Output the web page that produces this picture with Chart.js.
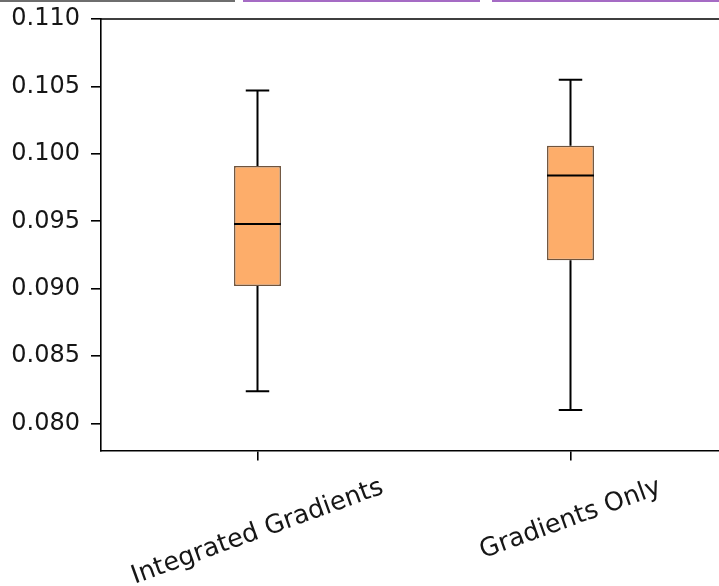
<!DOCTYPE html>
<html>
<head>
<meta charset="utf-8">
<script src="https://cdn.jsdelivr.net/npm/chart.js@4/dist/chart.umd.min.js"></script>
<style>
  html, body { margin: 0; padding: 0; background: #fff; overflow: hidden; }
  #wrap { position: relative; width: 719px; height: 586px; overflow: hidden; }
  canvas { position: absolute; left: 0; top: 0; }
  .strip { position: absolute; top: 0; height: 2px; }
</style>
</head>
<body>
<div id="wrap">
  <canvas id="c" width="740" height="586"></canvas>
  <div class="strip" style="left:0;width:235px;background:#6e6e6e;"></div>
  <div class="strip" style="left:243px;width:237px;background:#a56bc4;"></div>
  <div class="strip" style="left:492px;width:227px;background:#a56bc4;"></div>
</div>
<script>
// ---- data ----
const categories  = ['Integrated Gradients', 'Gradients Only'];
const whiskerLow  = [0.0824, 0.0810];
const q1          = [0.0902, 0.0921];
const medians     = [0.0948, 0.0984];
const q3          = [0.0991, 0.1006];
const whiskerHigh = [0.1047, 0.1055];
const yTicks      = [0.080, 0.085, 0.090, 0.095, 0.100, 0.105, 0.110];
const yMin = 0.078, yMax = 0.110;

const FONT = '"DejaVu Sans", "Liberation Sans", sans-serif';
const FONT_SIZE = 24;
const XFONT_SIZE = 25.5;
const ROT = 20; // degrees
const TEXT_COLOR = '#161616';

const boxPlugin = {
  id: 'boxExtras',
  afterDatasetsDraw(chart) {
    const ctx = chart.ctx;
    const xs = chart.scales.x, ys = chart.scales.y;
    const meta = chart.getDatasetMeta(0);
    ctx.save();
    ctx.strokeStyle = '#000';
    ctx.lineCap = 'butt';
    categories.forEach((c, i) => {
      const x = xs.getPixelForValue(i);
      const bw = meta.data[i].width;
      const capHalf = bw / 4;
      const yLo = ys.getPixelForValue(whiskerLow[i]);
      const yQ1 = ys.getPixelForValue(q1[i]);
      const yQ3 = ys.getPixelForValue(q3[i]);
      const yHi = ys.getPixelForValue(whiskerHigh[i]);
      const yMed = ys.getPixelForValue(medians[i]);
      ctx.lineWidth = 2;
      ctx.beginPath();
      ctx.moveTo(x, yQ1); ctx.lineTo(x, yLo);
      ctx.moveTo(x, yQ3); ctx.lineTo(x, yHi);
      ctx.moveTo(x - capHalf, yLo); ctx.lineTo(x + capHalf, yLo);
      ctx.moveTo(x - capHalf, yHi); ctx.lineTo(x + capHalf, yHi);
      ctx.stroke();
      ctx.lineWidth = 2;
      ctx.beginPath();
      ctx.moveTo(x - bw / 2, yMed); ctx.lineTo(x + bw / 2, yMed);
      ctx.stroke();
    });
    ctx.restore();
  },
  afterDraw(chart) {
    const ctx = chart.ctx;
    const a = chart.chartArea;
    const xs = chart.scales.x;
    ctx.save();
    // top and right spines
    ctx.strokeStyle = '#000';
    ctx.lineWidth = 1.6;
    ctx.beginPath();
    ctx.moveTo(a.left, a.top); ctx.lineTo(a.right, a.top); ctx.lineTo(a.right, a.bottom);
    ctx.stroke();
    // rotated, centred category labels
    ctx.font = XFONT_SIZE + 'px ' + FONT;
    ctx.fillStyle = TEXT_COLOR;
    ctx.textAlign = 'center';
    ctx.textBaseline = 'middle';
    const th = ROT * Math.PI / 180;
    const topY = a.bottom + 23;
    categories.forEach((label, i) => {
      const x = xs.getPixelForValue(i);
      const w = ctx.measureText(label).width;
      const h = XFONT_SIZE * 1.1;
      const H = w * Math.sin(th) + h * Math.cos(th);
      ctx.save();
      ctx.translate(x, topY + H / 2);
      ctx.rotate(-th);
      ctx.fillText(label, 0, 0);
      ctx.restore();
    });
    ctx.restore();
  }
};

new Chart(document.getElementById('c'), {
  type: 'bar',
  data: {
    labels: categories,
    datasets: [{
      data: categories.map((c, i) => [q1[i], q3[i]]),
      backgroundColor: '#fdad6a',
      borderColor: 'rgba(95,65,40,0.9)',
      borderWidth: 1.5,
      borderSkipped: false,
      barPercentage: 0.15,
      categoryPercentage: 1.0
    }]
  },
  options: {
    responsive: false,
    animation: false,
    devicePixelRatio: 1,
    layout: { padding: { left: 0, top: 19, right: 13, bottom: 0 } },
    plugins: { legend: { display: false }, tooltip: { enabled: false } },
    scales: {
      x: {
        type: 'category',
        offset: true,
        grid: { display: true, offset: false, drawOnChartArea: false, drawTicks: true, tickLength: 10, color: '#000', lineWidth: 1.6 },
        border: { display: true, color: '#000', width: 1.6 },
        ticks: { display: false },
        afterFit(scale) { scale.height = 135.5; scale.paddingLeft = 0; scale.paddingRight = 0; }
      },
      y: {
        min: yMin, max: yMax,
        grid: { display: true, drawOnChartArea: false, drawTicks: true, tickLength: 10, color: '#000', lineWidth: 1.6 },
        border: { display: true, color: '#000', width: 1.6 },
        ticks: {
          padding: 11,
          color: TEXT_COLOR,
          font: { family: FONT, size: FONT_SIZE },
          callback: (v) => Number(v).toFixed(3)
        },
        afterBuildTicks(scale) { scale.ticks = yTicks.map(v => ({ value: v })); },
        afterFit(scale) { scale.width = 101; scale.paddingTop = 0; scale.paddingBottom = 0; }
      }
    }
  },
  plugins: [boxPlugin]
});
</script>
</body>
</html>
